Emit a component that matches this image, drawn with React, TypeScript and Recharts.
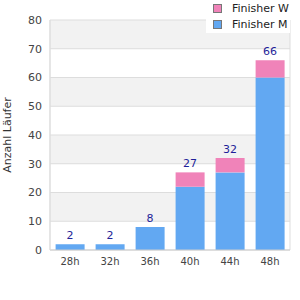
import React from 'react';
import { BarChart, Bar, XAxis, YAxis, CartesianGrid, LabelList } from 'recharts';

const categories = ['28h', '32h', '36h', '40h', '44h', '48h'];
const finisherM = [2, 2, 8, 22, 27, 60];
const finisherW = [0, 0, 0, 5, 5, 6];
const yTicks = [0, 10, 20, 30, 40, 50, 60, 70, 80];

const data = categories.map((cat, i) => ({
  cat,
  m: finisherM[i],
  w: finisherW[i],
  total: finisherM[i] + finisherW[i],
}));

const BLUE = '#62a8f2';
const PINK = '#f083b9';
const FONT = '"DejaVu Sans", sans-serif';

const LegendBox = () => (
  <div
    style={{
      position: 'absolute', left: 206, top: 0, background: '#fff', width: 84, height: 33,
      fontFamily: FONT, fontSize: 11, color: '#222',
    }}
  >
    {[{ c: PINK, t: 'Finisher W' }, { c: BLUE, t: 'Finisher M' }].map((it) => (
      <div key={it.t} style={{ display: 'flex', alignItems: 'center', height: 15, paddingLeft: 7, paddingTop: 1 }}>
        <div style={{ width: 7, height: 7, background: it.c, border: '1px solid #777', marginRight: 10 }} />
        <span>{it.t}</span>
      </div>
    ))}
  </div>
);

// total label sits above the stack; scale taken from the M bar itself
const TotalLabel = (props: any) => {
  const { x, y, width, height, index } = props;
  const d = data[index];
  const perUnit = height / d.m;
  const top = y + height - d.total * perUnit;
  return (
    <text x={x + width / 2} y={top - 5} textAnchor="middle" fill="#1f1f99" fontSize={11} fontFamily={FONT}>
      {d.total}
    </text>
  );
};

export default function App() {
  return (
    <div style={{ position: 'absolute', left: 0, top: 0, width: 300, height: 300, background: '#fff' }}>
      <BarChart
        width={300}
        height={300}
        data={data}
        margin={{ top: 20, right: 10, bottom: 20, left: 0 }}
        barCategoryGap="14%"
        style={{ fontFamily: FONT }}
      >
        <CartesianGrid
          stroke="#dddddd"
          horizontalFill={['#f2f2f2', '#ffffff']}
          verticalPoints={[50, 290]}
        />
        <XAxis
          dataKey="cat"
          height={30}
          axisLine={{ stroke: '#cccccc' }}
          tickLine={false}
          tick={{ fontSize: 10, fill: '#444' }}
        />
        <YAxis
          width={50}
          domain={[0, 80]}
          ticks={yTicks}
          axisLine={{ stroke: '#dddddd' }}
          tickLine={false}
          tick={{ fontSize: 11, fill: '#444' }}
          label={{
            value: 'Anzahl Läufer',
            angle: -90,
            position: 'insideLeft',
            offset: 7,
            style: { textAnchor: 'middle', fontSize: 11, fill: '#333' },
          }}
        />
        <Bar dataKey="m" stackId="a" fill={BLUE} isAnimationActive={false}>
          <LabelList dataKey="total" content={TotalLabel} />
        </Bar>
        <Bar dataKey="w" stackId="a" fill={PINK} isAnimationActive={false} />
      </BarChart>
      <LegendBox />
    </div>
  );
}
